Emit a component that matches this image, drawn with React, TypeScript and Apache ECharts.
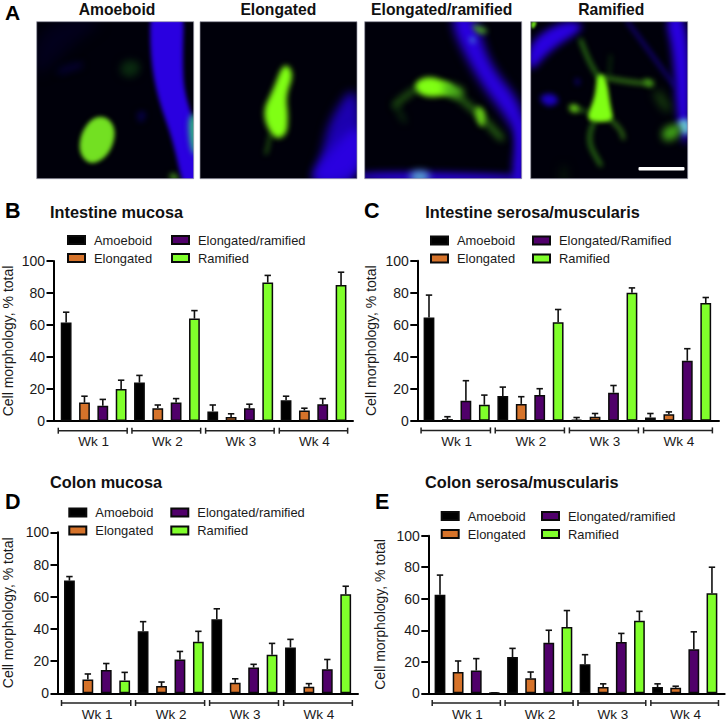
import React, { useEffect, useRef } from "react";
import * as echarts from "echarts";

const FONT = '"Liberation Sans", Arial, sans-serif';
const morphologies = ["Amoeboid", "Elongated", "Elongated/ramified", "Ramified"];
const morphologiesC = ["Amoeboid", "Elongated", "Elongated/Ramified", "Ramified"];
const colors = ["#000000", "#D6732A", "#50006A", "#80FF2B"];
const weeks = ["Wk 1", "Wk 2", "Wk 3", "Wk 4"];
const yTicks = { min: 0, max: 100, interval: 20 };

// values per morphology, Wk 1..Wk 4; *Top = top of the error bar
const bAmoeboid = [61.5, 24, 6, 13];
const bAmoeboidTop = [68, 28.5, 10, 15.5];
const bElongated = [11.5, 8, 2.5, 6.5];
const bElongatedTop = [15.5, 10, 4.5, 8];
const bMixed = [9.5, 11.5, 8, 10.5];
const bMixedTop = [13.5, 14, 10.5, 14];
const bRamified = [20, 64, 86.5, 85];
const bRamifiedTop = [25.5, 69, 91, 93];

const cAmoeboid = [64.5, 15.5, 0.5, 2];
const cAmoeboidTop = [78.5, 21, 2, 4.5];
const cElongated = [1, 10.5, 2.5, 4];
const cElongatedTop = [2.5, 15, 4.5, 5.5];
const cMixed = [12.5, 16, 17.5, 37.5];
const cMixedTop = [25, 20, 22, 45];
const cRamified = [10, 61.5, 80, 73.5];
const cRamifiedTop = [16, 69.5, 83, 77];

const dAmoeboid = [70, 38.5, 46, 28.5];
const dAmoeboidTop = [72.5, 44.5, 52.5, 33.5];
const dElongated = [8.5, 4.5, 6.5, 4];
const dElongatedTop = [12, 7, 9, 6];
const dMixed = [14.5, 21, 16, 15];
const dMixedTop = [18.5, 26, 18, 21];
const dRamified = [8, 32, 24, 61.5];
const dRamifiedTop = [13, 38.5, 31, 66.5];

const eAmoeboid = [62.5, 23, 18.5, 4];
const eAmoeboidTop = [75, 28.5, 24.5, 6];
const eElongated = [13.5, 9.5, 4, 3.5];
const eElongatedTop = [20.5, 13.5, 6, 4.5];
const eMixed = [14.5, 32, 32.5, 28];
const eMixedTop = [22, 40, 38, 39];
const eRamified = [0.3, 42, 46, 63.5];
const eRamifiedTop = [0.3, 52.5, 52, 80];

const panels = [
  { letter: "B", title: "Intestine mucosa", names: morphologies,
    values: [bAmoeboid, bElongated, bMixed, bRamified], tops: [bAmoeboidTop, bElongatedTop, bMixedTop, bRamifiedTop],
    axisX: 52.3, right: 353, y100: 261, y0: 421, first: 65, step: 18.4, nameGap: 38.5,
    titleX: 50, titleY: 212, letterX: 5, letterY: 211, legendX: [67, 171], legendY: [240, 258] },
  { letter: "C", title: "Intestine serosa/muscularis", names: morphologiesC,
    values: [cAmoeboid, cElongated, cMixed, cRamified], tops: [cAmoeboidTop, cElongatedTop, cMixedTop, cRamifiedTop],
    axisX: 417.3, right: 719, y100: 260.7, y0: 420.7, first: 429, step: 18.45, nameGap: 39.5,
    titleX: 425.3, titleY: 212, letterX: 364, letterY: 211, legendX: [430, 532], legendY: [240.5, 258.5] },
  { letter: "D", title: "Colon mucosa", names: morphologies,
    values: [dAmoeboid, dElongated, dMixed, dRamified], tops: [dAmoeboidTop, dElongatedTop, dMixedTop, dRamifiedTop],
    axisX: 55.7, right: 358, y100: 532.3, y0: 693.3, first: 67.7, step: 18.53, nameGap: 42.5,
    titleX: 50, titleY: 481.7, letterX: 5, letterY: 502, legendX: [68.3, 170.3], legendY: [512.5, 530.5] },
  { letter: "E", title: "Colon serosa/muscularis", names: morphologies,
    values: [eAmoeboid, eElongated, eMixed, eRamified], tops: [eAmoeboidTop, eElongatedTop, eMixedTop, eRamifiedTop],
    axisX: 428.3, right: 724.7, y100: 535.7, y0: 693.3, first: 440, step: 18.13, nameGap: 41.5,
    titleX: 425, titleY: 481.7, letterX: 375, letterY: 502, legendX: [440.7, 541], legendY: [516, 534] },
];

const photoHeads = [
  { text: "Amoeboid", x: 117 },
  { text: "Elongated", x: 278.3 },
  { text: "Elongated/ramified", x: 441.7 },
  { text: "Ramified", x: 611.3 },
];

type Pt = [number, number];
function grow(pts: Pt[], k: number): Pt[] {
  const cx = pts.reduce((s, p) => s + p[0], 0) / pts.length;
  const cy = pts.reduce((s, p) => s + p[1], 0) / pts.length;
  return pts.map((p) => [cx + (p[0] - cx) * k, cy + (p[1] - cy) * k] as Pt);
}
function smooth(ctx: CanvasRenderingContext2D, pts: Pt[], closed: boolean) {
  ctx.beginPath();
  if (closed) {
    const n = pts.length;
    ctx.moveTo((pts[n - 1][0] + pts[0][0]) / 2, (pts[n - 1][1] + pts[0][1]) / 2);
    for (let i = 0; i < n; i++) {
      const p = pts[i], q = pts[(i + 1) % n];
      ctx.quadraticCurveTo(p[0], p[1], (p[0] + q[0]) / 2, (p[1] + q[1]) / 2);
    }
    ctx.closePath();
  } else {
    ctx.moveTo(pts[0][0], pts[0][1]);
    for (let i = 1; i < pts.length - 1; i++) {
      const p = pts[i], q = pts[i + 1];
      ctx.quadraticCurveTo(p[0], p[1], (p[0] + q[0]) / 2, (p[1] + q[1]) / 2);
    }
    ctx.lineTo(pts[pts.length - 1][0], pts[pts.length - 1][1]);
  }
}

// shapes are given in 3x-crop units local to the photo's corner
function makePhoto(draw: (blob: (p: Pt[], c: string, b?: number) => void, line: (p: Pt[], w: number, c: string, b?: number) => void) => void) {
  const cv = document.createElement("canvas");
  const S = 2;
  cv.width = 157 * S;
  cv.height = 157 * S;
  const ctx = cv.getContext("2d")!;
  ctx.fillStyle = "#00000a";
  ctx.fillRect(0, 0, cv.width, cv.height);
  ctx.scale(S / 3, S / 3);
  const px = (b?: number) => `blur(${(b ?? 3) * S}px)`;
  const blob = (p: Pt[], c: string, b?: number) => {
    ctx.filter = px(b);
    ctx.fillStyle = c;
    smooth(ctx, grow(p, 1.14), true);
    ctx.fill();
  };
  const line = (p: Pt[], w: number, c: string, b?: number) => {
    ctx.filter = px(b);
    ctx.strokeStyle = c;
    ctx.lineWidth = w;
    ctx.lineCap = "round";
    smooth(ctx, p, false);
    ctx.stroke();
  };
  draw(blob, line);
  ctx.filter = "none";
  return cv.toDataURL("image/png");
}

const B = "#2a00e0";
const G = "#80ff14";
function buildPhotos() {
  const p1 = makePhoto((blob, line) => {
    line([[130, 130], [90, 140], [70, 150]], 12, "#0a0050", 4);
    blob([[0, 170], [110, 60], [200, 0], [60, 0], [0, 60]], "#02001c", 6);
    blob([[350, -20], [440, -20], [435, 130], [440, 220], [480, 330], [480, 480], [440, 480], [410, 340], [370, 230], [350, 120]], B, 2);
    blob([[300, 270], [330, 270], [320, 300], [305, 300]], "#060040", 3);
    blob([[455, 290], [480, 280], [480, 400], [462, 380]], "#30b880", 3);
    blob([[270, 115], [310, 125], [300, 160], [265, 165], [250, 140]], "#0a2a10", 4);
    blob([[395, 470], [410, 450], [430, 480]], "#4a9a20", 3);
    blob([[172, 292], [212, 295], [232, 335], [212, 395], [165, 422], [133, 390], [138, 335]], "#73e022", 2);
  });
  const p2 = makePhoto((blob, line) => {
    blob([[470, 190], [480, 480], [335, 480], [370, 400], [390, 300]], "#1c00b0", 5);
    blob([[480, 300], [480, 460], [335, 480], [375, 410]], B, 5);
    line([[210, 340], [205, 370], [198, 395]], 8, "#2a6a10", 3);
    blob([[250, 135], [278, 165], [255, 225], [262, 275], [258, 330], [222, 340], [192, 270], [222, 210]], G, 3);
  });
  const p3 = makePhoto((blob, line) => {
    blob([[260, 0], [340, 0], [370, 130], [472, 250], [472, 400], [440, 300], [340, 170]], B, 5);
    blob([[460, 300], [480, 300], [480, 480], [440, 480]], B, 4);
    blob([[0, 450], [470, 460], [480, 480], [0, 480]], B, 4);
    blob([[140, 450], [190, 450], [190, 480], [140, 480]], "#5aa8d0", 4);
    blob([[315, 5], [375, 25], [345, 40]], "#4aa020", 3);
    blob([[310, 50], [330, 45], [330, 70]], "#4080d0", 3);
    line([[90, 250], [130, 215], [170, 195]], 10, "#3c9a18", 4);
    line([[92, 250], [120, 300]], 6, "#1e6a10", 4);
    line([[240, 195], [300, 240], [345, 280], [410, 350]], 12, "#3f9e18", 4);
    blob([[330, 255], [360, 265], [358, 315], [340, 305]], "#6ad018", 3);
    blob([[150, 190], [190, 165], [250, 185], [260, 215], [180, 225]], G, 3);
    blob([[235, 180], [300, 205], [285, 225], [240, 220]], "#4fb61c", 4);
  });
  const p4 = makePhoto((blob, line) => {
    blob([[0, 150], [0, 60], [100, 0], [160, 20], [60, 80]], B, 4);
    blob([[405, 0], [472, 0], [472, 370], [440, 300], [430, 100]], B, 4);
    line([[290, 0], [430, 190]], 8, "#1a00a0", 3);
    blob([[25, 225], [65, 215], [85, 240], [50, 255]], "#1c00c0", 3);
    blob([[130, 170], [150, 175], [140, 195]], "#100080", 3);
    blob([[0, 0], [20, 0], [5, 25]], "#6ee01a", 1);
    blob([[440, 300], [475, 290], [475, 340], [450, 330]], "#6ac4e0", 3);
    blob([[395, 320], [450, 305], [445, 345], [400, 360]], "#3f9e18", 4);
    line([[150, 55], [170, 110], [205, 170]], 9, "#3a9a18", 3);
    line([[205, 165], [290, 180], [350, 185]], 9, "#4aa81a", 3);
    blob([[335, 170], [375, 180], [355, 200]], "#4fb01a", 3);
    line([[235, 165], [240, 100]], 5, "#15500c", 3);
    line([[380, 215], [395, 240], [410, 260]], 14, "#2a7010", 5);
    line([[125, 258], [170, 270]], 6, "#3a9a18", 3);
    blob([[115, 250], [140, 250], [145, 270], [120, 270]], "#6ad018", 3);
    line([[190, 300], [165, 350], [210, 430]], 9, "#3a9a18", 3);
    line([[235, 290], [270, 320], [278, 350]], 8, "#4aa81a", 3);
    blob([[200, 165], [225, 175], [235, 250], [245, 290], [200, 295], [170, 285], [195, 230]], G, 2);
    line([[100, 480], [100, 440]], 12, "#0c2a08", 5);
  });
  return [p1, p2, p3, p4];
}
const photoBoxes = [
  { x: 36.7, y: 21.7 }, { x: 200, y: 21.7 }, { x: 364.7, y: 21.7 }, { x: 530.7, y: 21.7 },
];

const T = "#1a1a1a";

function buildOption(images: string[]) {
  const grids: any[] = [], xAxes: any[] = [], yAxes: any[] = [], series: any[] = [], legends: any[] = [], titles: any[] = [];
  const graphics: any[] = [];

  photoHeads.forEach((h) => {
    graphics.push({ type: "text", x: h.x, y: 9, style: { text: h.text, fill: "#111", font: `bold 15.7px ${FONT}`, textAlign: "center", textVerticalAlign: "middle" } });
  });
  images.forEach((img, i) => {
    graphics.push({ type: "image", x: photoBoxes[i].x, y: photoBoxes[i].y, style: { image: img, x: 0, y: 0, width: 157, height: 157 } });
    graphics.push({ type: "rect", x: photoBoxes[i].x, y: photoBoxes[i].y, shape: { x: 0, y: 0, width: 157, height: 157 }, style: { fill: "none", stroke: "#9a9aa8", lineWidth: 0.7 } });
  });
  graphics.push({ type: "rect", shape: { x: 638.5, y: 167, width: 46, height: 3.6, r: 1 }, style: { fill: "#fff" } });
  graphics.push({ type: "text", x: 5, y: 12, style: { text: "A", fill: "#000", font: `bold 21px ${FONT}`, textVerticalAlign: "middle" } });

  panels.forEach((p, pi) => {
    grids.push({ left: p.axisX, top: p.y100, width: p.right - p.axisX, height: p.y0 - p.y100 });
    xAxes.push({
      gridIndex: pi, type: "value",
      min: (p.axisX - p.first) / p.step, max: (p.right - p.first) / p.step,
      axisLine: { show: true, onZero: false, lineStyle: { color: "#000", width: 2 } },
      axisTick: { show: false }, axisLabel: { show: false }, splitLine: { show: false },
    });
    yAxes.push({
      gridIndex: pi, type: "value", ...yTicks,
      name: "Cell morphology, % total", nameLocation: "middle", nameGap: p.nameGap,
      nameTextStyle: { color: T, fontSize: 14, fontFamily: FONT },
      axisLine: { show: true, onZero: false, lineStyle: { color: "#000", width: 2 } },
      axisTick: { show: true, length: 7, lineStyle: { color: "#000", width: 2 } },
      axisLabel: { color: T, fontSize: 14, fontFamily: FONT, margin: 8.5 },
      splitLine: { show: false },
    });
    titles.push({ text: p.title, left: p.titleX, top: p.titleY - 9, padding: 0, textStyle: { color: "#111", fontFamily: FONT, fontSize: 16.3, fontWeight: "bold", lineHeight: 18 } });
    graphics.push({ type: "text", x: p.letterX, y: p.letterY, style: { text: p.letter, fill: "#000", font: `bold 21.5px ${FONT}`, textVerticalAlign: "middle" } });

    [0, 1].forEach((col) => {
      legends.push({
        orient: "vertical", left: p.legendX[col], top: p.legendY[0] - 8,
        data: [p.names[col * 2], p.names[col * 2 + 1]], padding: 0,
        itemWidth: 17, itemHeight: 8, itemGap: 2, selectedMode: false, icon: "rect",
        textStyle: { color: T, fontSize: 12.9, fontFamily: FONT, padding: [0, 0, 0, 4], lineHeight: 16 },
      });
    });

    p.names.forEach((name, m) => {
      series.push({
        type: "bar", name, xAxisIndex: pi, yAxisIndex: pi, barWidth: 10.8, barGap: "-100%",
        itemStyle: { color: colors[m], borderColor: "#0a0a0a", borderWidth: 1.5 },
        data: p.values[m].map((v, w) => [w * 4 + m, v]),
      });
    });
    const errData: number[][] = [];
    p.names.forEach((_, m) => p.values[m].forEach((v, w) => errData.push([w * 4 + m, v, p.tops[m][w]])));
    series.push({
      type: "custom", name: "error", xAxisIndex: pi, yAxisIndex: pi, silent: true, z: 5, data: errData, encode: { x: 0, y: [1, 2] },
      renderItem: (_: any, api: any) => {
        const a = api.coord([api.value(0), api.value(1)]);
        const b = api.coord([api.value(0), api.value(2)]);
        const st = { stroke: "#111", lineWidth: 1.6, fill: "none" };
        return {
          type: "group", children: [
            { type: "line", shape: { x1: a[0], y1: a[1], x2: b[0], y2: b[1] }, style: st },
            { type: "line", shape: { x1: a[0] - 3.2, y1: b[1], x2: a[0] + 3.2, y2: b[1] }, style: st },
          ],
        };
      },
    });
    const brackets = weeks.map((_, w) => [w * 4 - 0.43 + w * 0.02, w * 4 + 3.33 + w * 0.01]);
    series.push({
      type: "custom", name: "weeks", xAxisIndex: pi, yAxisIndex: pi, silent: true, z: 5, data: brackets, encode: { x: [0, 1] },
      renderItem: (params: any, api: any) => {
        const a = api.coord([api.value(0), 0]);
        const b = api.coord([api.value(1), 0]);
        const y = a[1] + 9.7;
        const st = { stroke: "#222", lineWidth: 1.5, fill: "none" };
        return {
          type: "group", children: [
            { type: "line", shape: { x1: a[0], y1: y, x2: b[0], y2: y }, style: st },
            { type: "line", shape: { x1: a[0], y1: y - 3, x2: a[0], y2: y + 3 }, style: st },
            { type: "line", shape: { x1: b[0], y1: y - 3, x2: b[0], y2: y + 3 }, style: st },
            { type: "text", style: { x: (a[0] + b[0]) / 2 + 1, y: y + 11, text: weeks[params.dataIndex], fill: T, font: `13.5px ${FONT}`, textAlign: "center", textVerticalAlign: "middle" } },
          ],
        };
      },
    });
  });

  return { animation: false, backgroundColor: "#fff", title: titles, grid: grids, xAxis: xAxes, yAxis: yAxes, legend: legends, series, graphic: { elements: graphics } };
}

export default function App() {
  const ref = useRef<HTMLDivElement>(null);
  useEffect(() => {
    document.body.style.margin = "0";
    const chart = echarts.init(ref.current!, null, { renderer: "svg" });
    chart.setOption(buildOption(buildPhotos()) as any);
    return () => chart.dispose();
  }, []);
  return <div ref={ref} style={{ width: 726, height: 721 }} />;
}
